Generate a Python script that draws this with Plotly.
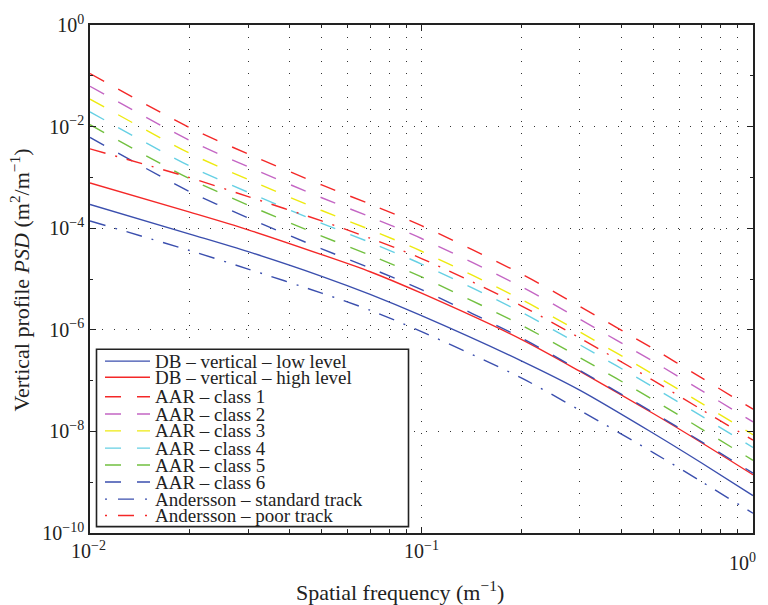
import plotly.graph_objects as go

# ---------------- data ----------------
freq = [0.01, 0.02, 0.03, 0.05, 0.07, 0.1, 0.2, 0.3, 0.5, 0.7, 1.0]

db_low = [2.94e-4, 7.67e-5, 3.45e-5, 1.13e-5, 4.98e-6, 1.90e-6, 2.45e-7, 6.5e-8, 9.2e-9, 2.39e-9, 5.46e-10]
db_high = [7.78e-4, 2.07e-4, 9.3e-5, 3.02e-5, 1.39e-5, 5.25e-6, 6.49e-7, 1.53e-7, 2.25e-8, 5.98e-9, 1.40e-9]

aar_1 = [0.111, 9.5e-3, 2.89e-3, 7.1e-4, 2.98e-4, 1.12e-4, 1.26e-5, 2.89e-6, 4.25e-7, 1.13e-7, 2.74e-8]
aar_2 = [0.0622, 5.32e-3, 1.62e-3, 3.98e-4, 1.67e-4, 6.27e-5, 7.06e-6, 1.62e-6, 2.38e-7, 6.33e-8, 1.54e-8]
aar_3 = [0.0348, 2.98e-3, 9.07e-4, 2.23e-4, 9.35e-5, 3.52e-5, 3.95e-6, 9.07e-7, 1.33e-7, 3.55e-8, 8.6e-9]
aar_4 = [0.0195, 1.67e-3, 5.08e-4, 1.25e-4, 5.24e-5, 1.97e-5, 2.22e-6, 5.08e-7, 7.47e-8, 1.99e-8, 4.82e-9]
aar_5 = [0.0109, 9.36e-4, 2.85e-4, 7.0e-5, 2.94e-5, 1.10e-5, 1.24e-6, 2.85e-7, 4.19e-8, 1.11e-8, 2.70e-9]
aar_6 = [6.13e-3, 5.24e-4, 1.59e-4, 3.92e-5, 1.64e-5, 6.18e-6, 6.95e-7, 1.59e-7, 2.35e-8, 6.24e-9, 1.51e-9]

and_std = [1.39e-4, 3.63e-5, 1.57e-5, 5.27e-6, 2.43e-6, 9.2e-7, 1.13e-7, 2.62e-8, 3.83e-9, 1.02e-9, 2.45e-10]
and_poor = [3.65e-3, 9.9e-4, 4.19e-4, 1.39e-4, 6.34e-5, 2.53e-5, 2.97e-6, 6.9e-7, 1.01e-7, 2.68e-8, 6.75e-9]

names = [
    "DB – vertical – low level",
    "DB – vertical – high level",
    "AAR – class 1",
    "AAR – class 2",
    "AAR – class 3",
    "AAR – class 4",
    "AAR – class 5",
    "AAR – class 6",
    "Andersson – standard track",
    "Andersson – poor track",
]
series = [db_low, db_high, aar_1, aar_2, aar_3, aar_4, aar_5, aar_6, and_std, and_poor]

x_tick_vals = [0.01, 0.1, 1.0]
x_tick_text = ["10<sup>−2</sup>", "10<sup>−1</sup>", "10<sup>0</sup>"]
y_tick_vals = [1e-10, 1e-8, 1e-6, 1e-4, 1e-2, 1.0]
y_tick_text = ["10<sup>−10</sup>", "10<sup>−8</sup>", "10<sup>−6</sup>",
               "10<sup>−4</sup>", "10<sup>−2</sup>", "10<sup>0</sup>"]

# ---------------- styles ----------------
BLUE = "#3b4fae"
RED = "#f42828"
colors = [BLUE, RED, RED, "#c466c4", "#eeea10", "#66d0e4", "#72c040", BLUE, BLUE, RED]
DASHED = "16px,16px"
DASHDOT = "16px,10px,2px,10px"
dashes = ["solid", "solid"] + [DASHED] * 6 + [DASHDOT, DASHDOT]
legend_dashes = ["solid", "solid"] + [DASHED] * 6 + ["2px,11px,16px,11px"] * 2

FONT = "Liberation Serif"
TXT = "#222"

fig = go.Figure()
for name, ys, c, d in zip(names, series, colors, dashes):
    fig.add_trace(go.Scatter(x=freq, y=ys, mode="lines", name=name,
                             line=dict(color=c, width=1.4, dash=d,
                                       shape="spline", smoothing=0.8),
                             showlegend=False))

# geometry of plot area (pixels)
W, H = 768, 605
L, R, T, B = 90, 753, 12, 533


def px(x):
    return (x - L) / (R - L)


def py(y):
    return (B - y) / (B - T)


minor_x = [0.02, 0.03, 0.04, 0.05, 0.06, 0.07, 0.08, 0.09,
           0.2, 0.3, 0.4, 0.5, 0.6, 0.7, 0.8, 0.9]
minor_y = [1e-9, 1e-7, 1e-5, 1e-3, 1e-1]

GRID = "1px,11px"

fig.update_xaxes(
    type="log", range=[-2, 0],
    tickvals=x_tick_vals, ticktext=["", "", ""],
    ticks="inside", ticklen=6, tickcolor=TXT, tickwidth=1,
    showline=True, linecolor=TXT, linewidth=1.6, mirror="ticks",
    showgrid=True, gridcolor="#333", gridwidth=1, griddash=GRID,
    minor=dict(tickvals=minor_x, ticks="inside", ticklen=3, tickcolor=TXT,
               showgrid=True, gridcolor="#333", gridwidth=1, griddash=GRID),
    zeroline=False,
)
fig.update_yaxes(
    type="log", range=[-10, 0],
    tickvals=y_tick_vals, ticktext=y_tick_text,
    tickfont=dict(family=FONT, size=20, color=TXT),
    ticks="inside", ticklen=6, tickcolor=TXT, tickwidth=1,
    showline=True, linecolor=TXT, linewidth=1.6, mirror="ticks",
    showgrid=True, gridcolor="#333", gridwidth=1, griddash=GRID,
    minor=dict(tickvals=minor_y, ticks="inside", ticklen=3, tickcolor=TXT),
    zeroline=False,
)

annotations = []
# x tick labels (placed like the reference)
xlab_pos = [(88, 550), (421, 550), (742, 563)]
for txt, (ax_, ay_) in zip(x_tick_text, xlab_pos):
    annotations.append(dict(x=px(ax_), y=py(ay_), xref="paper", yref="paper",
                            text=txt, showarrow=False, xanchor="center", yanchor="middle",
                            font=dict(family=FONT, size=20, color=TXT)))
# axis titles
annotations.append(dict(x=px(400), y=py(592), xref="paper", yref="paper",
                        text="Spatial frequency (m<sup>−1</sup>)", showarrow=False,
                        xanchor="center", yanchor="middle",
                        font=dict(family=FONT, size=22, color=TXT)))
annotations.append(dict(x=px(20), y=py(274), xref="paper", yref="paper",
                        text="Vertical profile <i>PSD</i> (m<sup>2</sup>/m<sup>−1</sup>)",
                        showarrow=False, textangle=-90, xanchor="center", yanchor="middle",
                        font=dict(family=FONT, size=22, color=TXT)))

shapes = []
# legend box
shapes.append(dict(type="rect", xref="paper", yref="paper",
                   x0=px(96.5), x1=px(408.5), y0=py(526.5), y1=py(344.5),
                   line=dict(color=TXT, width=1.6), fillcolor="white", layer="above"))
row_y = [356.7, 373.3, 393.3, 411, 428.3, 446, 463.3, 480.7, 498.3, 515]
for name, c, d, ry in zip(names, colors, legend_dashes, row_y):
    shapes.append(dict(type="line", xref="paper", yref="paper",
                       x0=px(105), x1=px(150), y0=py(ry), y1=py(ry),
                       line=dict(color=c, width=1.4, dash=d), layer="above"))
    annotations.append(dict(x=px(153), y=py(ry), xref="paper", yref="paper",
                            text=name, showarrow=False, xanchor="left", yanchor="middle",
                            font=dict(family=FONT, size=19, color=TXT)))

fig.update_layout(
    width=W, height=H,
    margin=dict(l=L, r=W - R, t=T, b=H - B, pad=0),
    paper_bgcolor="white", plot_bgcolor="white",
    showlegend=False,
    annotations=annotations, shapes=shapes,
    font=dict(family=FONT, color=TXT),
)

fig.write_html("out.html")
